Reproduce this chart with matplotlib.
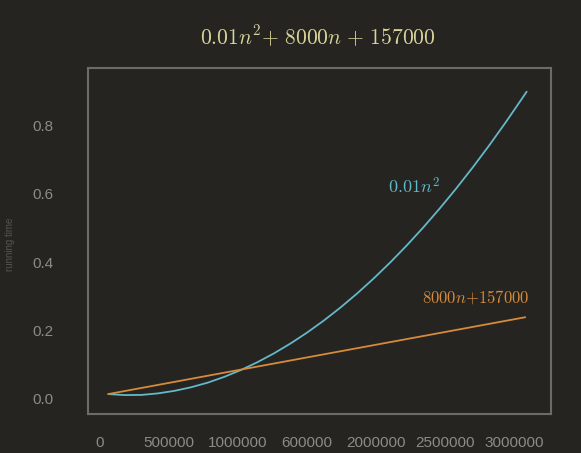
import matplotlib
matplotlib.use("Agg")
import matplotlib.pyplot as plt

# ---- data ----
quad_n = [60000, 180000, 300000, 420000, 540000, 660000, 780000, 900000, 1020000,
          1140000, 1260000, 1380000, 1500000, 1620000, 1740000, 1860000, 1980000,
          2100000, 2220000, 2340000, 2460000, 2580000, 2700000, 2820000, 2940000,
          3060000, 3090000]
quad_y = [0.0125, 0.0095, 0.0100, 0.0145, 0.0220, 0.0325, 0.0460, 0.0630, 0.083,
          0.106, 0.132, 0.161, 0.193, 0.228, 0.266, 0.307, 0.351,
          0.398, 0.448, 0.501, 0.557, 0.616, 0.678, 0.743, 0.811,
          0.882, 0.900]
lin_n = [60000, 990000, 3080000]
lin_y = [0.0125, 0.082, 0.238]

xtick_pos = [0, 500000, 1000000, 1500000, 2000000, 2500000, 3000000]
xtick_labels = ["0", "500000", "1000000", "600000", "2000000", "2500000", "3000000"]
ytick_pos = [0.0, 0.2, 0.4, 0.6, 0.8]
ytick_labels = ["0.0", "0.2", "0.4", "0.6", "0.8"]

title_text = r"$0.01n^{2}{+}\ 8000n\ {+}\ 157000$"
quad_label = r"$0.01n^2$"
lin_label = r"$8000n{+}157000$"
ylabel_text = "running time"

# ---- style ----
BG = "#252420"
CYAN = "#63b8c9"
ORANGE = "#d68a3c"
TITLE = "#d9d49b"
TICK = "#8c8b86"
FRAME = "#6c6b66"

plt.rcParams["mathtext.fontset"] = "cm"
plt.rcParams["font.family"] = ["Liberation Sans", "DejaVu Sans"]

fig = plt.figure(figsize=(5.81, 4.53), dpi=100, facecolor=BG)
ax = fig.add_axes([0.1515, 0.0861, 0.7975, 0.7627], facecolor=BG)

ax.plot(quad_n, quad_y, color=CYAN, lw=1.3, solid_capstyle="round",
        solid_joinstyle="round")
ax.plot(lin_n, lin_y, color=ORANGE, lw=1.3, solid_capstyle="round")

ax.set_xlim(-87000, 3269000)
ax.set_ylim(-0.046, 0.968)

ax.set_xticks(xtick_pos)
ax.set_xticklabels(xtick_labels)
ax.set_yticks(ytick_pos)
ax.set_yticklabels(ytick_labels)
ax.tick_params(axis="both", length=0, colors=TICK, labelsize=11)
ax.tick_params(axis="x", pad=16)
ax.tick_params(axis="y", pad=25)

for sp in ax.spines.values():
    sp.set_color(FRAME)
    sp.set_linewidth(1.5)

ax.text(2085000, 0.62, quad_label, color=CYAN, fontsize=13, va="center", ha="left")
ax.text(2330000, 0.297, lin_label, color=ORANGE, fontsize=12, va="center", ha="left")

fig.text(0.5465, 0.918, title_text, color=TITLE, fontsize=15.5, ha="center", va="center")
fig.text(0.018, 0.461, ylabel_text, color="#55544f", fontsize=7, rotation=90,
         ha="center", va="center")

fig.savefig("out.png", dpi=100, facecolor=BG)
